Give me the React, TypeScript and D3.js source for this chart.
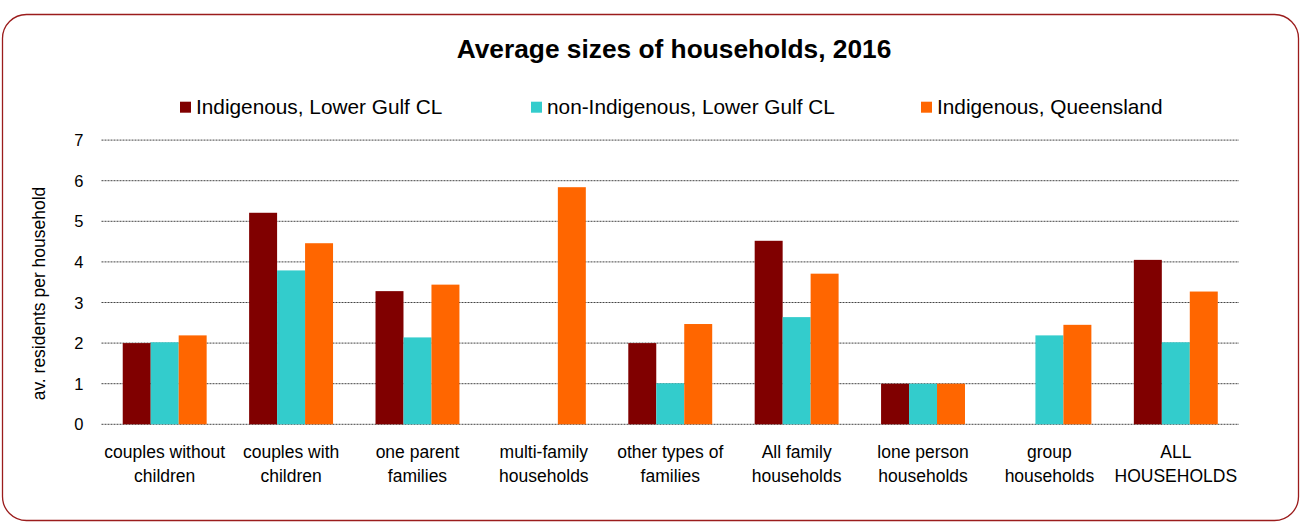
import React from "react";
import * as d3 from "d3";

const categories = [
  ["couples without", "children"],
  ["couples with", "children"],
  ["one parent", "families"],
  ["multi-family", "households"],
  ["other types of", "families"],
  ["All family", "households"],
  ["lone person", "households"],
  ["group", "households"],
  ["ALL", "HOUSEHOLDS"],
];
const seriesNames = ["Indigenous, Lower Gulf CL", "non-Indigenous, Lower Gulf CL", "Indigenous, Queensland"];
const indigenousLowerGulf: (number | null)[] = [2.0, 5.21, 3.28, null, 2.0, 4.52, 1.0, null, 4.05];
const nonIndigenousLowerGulf: (number | null)[] = [2.02, 3.79, 2.14, null, 1.01, 2.64, 1.0, 2.19, 2.02];
const indigenousQueensland: (number | null)[] = [2.19, 4.46, 3.44, 5.84, 2.47, 3.71, 1.0, 2.45, 3.27];
const yTicks = [0, 1, 2, 3, 4, 5, 6, 7];
const colors = ["#800000", "#33CCCC", "#FF6600"];

const W = 1301, H = 522;
const left = 101.5, right = 1239, top = 140.1, bottom = 424.3;

export default function App() {
  const series = [indigenousLowerGulf, nonIndigenousLowerGulf, indigenousQueensland];
  const x = d3.scaleBand<number>().domain(d3.range(categories.length)).range([left, right]).paddingInner(0.336).paddingOuter(0.168);
  const xs = d3.scaleBand<number>().domain([0, 1, 2]).range([0, x.bandwidth()]);
  const y = d3.scaleLinear().domain([0, 7]).range([bottom, top]);
  const font = "'Liberation Sans', Arial, sans-serif";
  const legendX = [180, 531, 921];
  return (
    <svg width={W} height={H} style={{ position: "absolute", left: 0, top: 0 }} fontFamily={font}>
      <rect x={2.5} y={14.5} width={1296} height={506} rx={24} ry={24} fill="white" stroke="#9b1c1c" strokeWidth={1.3} />
      <text x={674} y={58} textAnchor="middle" fontSize={26.3} fontWeight="bold" fill="#000">Average sizes of households, 2016</text>
      {seriesNames.map((n, i) => (
        <g key={n}>
          <rect x={legendX[i]} y={101.7} width={11} height={11} fill={colors[i]} />
          <text x={legendX[i] + 16} y={114.3} fontSize={20.8} fill="#000">{n}</text>
        </g>
      ))}
      {yTicks.map((t) => (
        <g key={t}>
          <line x1={left} x2={right} y1={y(t)} y2={y(t)} stroke="#444" strokeWidth={1} strokeDasharray="2,1" />
          <text x={83.5} y={y(t) + 6} textAnchor="end" fontSize={16.5} fill="#000">{t}</text>
        </g>
      ))}
      <text transform={`translate(45,293.5) rotate(-90)`} textAnchor="middle" fontSize={17.5} fill="#000">av. residents per household</text>
      {series.map((s, si) =>
        s.map((v, ci) =>
          v == null ? null : (
            <rect key={`${si}-${ci}`} x={(x(ci) ?? 0) + (xs(si) ?? 0)} y={y(v)} width={xs.bandwidth()} height={y(0) - y(v)} fill={colors[si]} />
          )
        )
      )}
      {categories.map((c, ci) => (
        <text key={ci} textAnchor="middle" fontSize={17.5} fill="#000">
          {c.map((line, li) => (
            <tspan key={li} x={(x(ci) ?? 0) + x.bandwidth() / 2} y={458 + li * 24}>{line}</tspan>
          ))}
        </text>
      ))}
    </svg>
  );
}
